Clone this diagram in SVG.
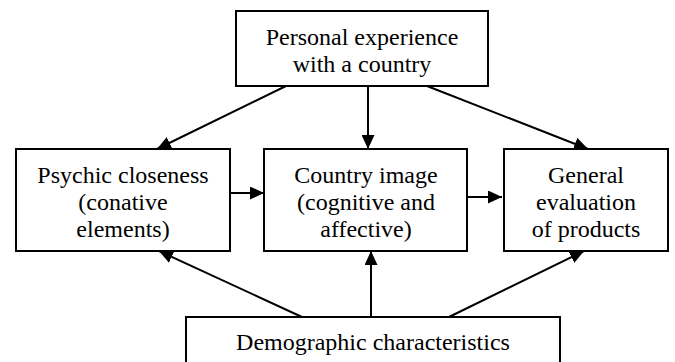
<svg xmlns="http://www.w3.org/2000/svg" width="675" height="362" viewBox="0 0 675 362">
<style>
.box{fill:#fff;stroke:#000;stroke-width:2}
.t{font-family:'Liberation Serif','Times New Roman','DejaVu Serif',serif;font-size:24px;fill:#000;text-anchor:middle}
.c{stroke:#000;stroke-width:2;fill:none;marker-end:url(#ah)}
</style>
<defs>
<marker id="ah" markerUnits="userSpaceOnUse" markerWidth="14" markerHeight="13" refX="14" refY="6.5" orient="auto">
<path d="M0,0 L14,6.5 L0,13 z" fill="#000"/>
</marker>
</defs>
<rect width="675" height="362" fill="#fff"/>
<g id="connectors">
<line class="c" x1="286" y1="86" x2="157" y2="149"/>
<line class="c" x1="368" y1="86" x2="368" y2="149"/>
<line class="c" x1="427" y1="86" x2="588" y2="149"/>
<line class="c" x1="230" y1="193" x2="264" y2="193"/>
<line class="c" x1="467" y1="197" x2="502" y2="197"/>
<line class="c" x1="302" y1="317" x2="159" y2="251"/>
<line class="c" x1="371" y1="317" x2="371" y2="251"/>
<line class="c" x1="449" y1="317" x2="584" y2="251"/>
</g>
<g id="personal">
<rect class="box" x="236" y="11" width="252" height="75"/>
<text class="t" x="362" y="45">Personal experience</text>
<text class="t" x="362" y="72">with a country</text>
</g>
<g id="psychic">
<rect class="box" x="16" y="149" width="214" height="102"/>
<text class="t" x="123" y="183">Psychic closeness</text>
<text class="t" x="123" y="210">(conative</text>
<text class="t" x="123" y="237">elements)</text>
</g>
<g id="image">
<rect class="box" x="264" y="149" width="203" height="102"/>
<text class="t" x="366" y="183">Country image</text>
<text class="t" x="366" y="210">(cognitive and</text>
<text class="t" x="366" y="237">affective)</text>
</g>
<g id="evaluation">
<rect class="box" x="504" y="149" width="164" height="102"/>
<text class="t" x="586" y="183">General</text>
<text class="t" x="586" y="210">evaluation</text>
<text class="t" x="586" y="237">of products</text>
</g>
<g id="demographic">
<rect class="box" x="186" y="317" width="374" height="60"/>
<text class="t" x="373" y="350">Demographic characteristics</text>
</g>
</svg>
